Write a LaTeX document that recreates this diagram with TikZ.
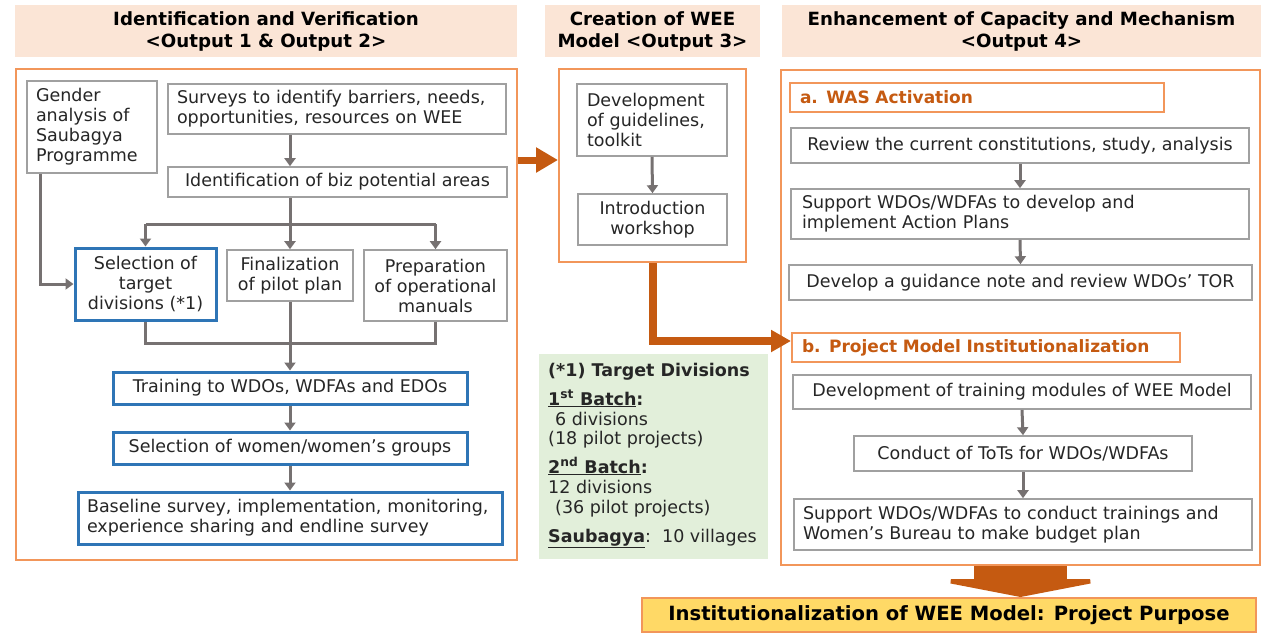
\documentclass[tikz,border=0pt]{standalone}
\usepackage{fontspec}
\setmainfont{DejaVu Sans}
\usetikzlibrary{arrows.meta}
\definecolor{txt}{RGB}{38,38,38}
\definecolor{gbord}{RGB}{160,160,160}
\definecolor{bbord}{RGB}{46,117,182}
\definecolor{hfill}{RGB}{251,229,214}
\definecolor{pbord}{RGB}{242,150,90}
\definecolor{odark}{RGB}{197,90,17}
\definecolor{gline}{RGB}{118,113,113}
\definecolor{gfill}{RGB}{226,239,218}
\definecolor{yfill}{RGB}{255,217,102}
\tikzset{
  base/.style={font=\fontsize{17.5}{20}\selectfont, text=txt, inner sep=0pt},
  gbox/.style={base, draw=gbord, line width=1.6pt, fill=white, align=center},
  bbox/.style={base, draw=bbord, line width=3pt, fill=white, align=center},
  lbox/.style={align=left, text width=#1},
  hdr/.style={font=\bfseries\fontsize{18.2}{22}\selectfont, fill=hfill, text=black, align=center, inner sep=0pt},
  panel/.style={draw=pbord, line width=2pt},
  obox/.style={draw=pbord, line width=2pt, fill=white, font=\bfseries\fontsize{17}{20}\selectfont, text=odark, align=left, inner sep=0pt},
  conn/.style={draw=gline, line width=3pt},
  arr/.style={conn, -{Triangle[width=11pt,length=8pt]}},
  gtxt/.style={base, anchor=base west},
}
\begin{document}
\begin{tikzpicture}[x=1pt,y=-1pt]
\useasboundingbox (0,0) rectangle (1261,633);
% headers
\node[hdr, minimum width=502pt, minimum height=52pt] (h1) at (266,31) {Identification and Verification\\<Output 1 \& Output 2>};
\node[hdr, minimum width=215pt, minimum height=52pt] (h2) at (652.5,31) {Creation of WEE\\Model <Output 3>};
\node[hdr, minimum width=479pt, minimum height=52pt] (h3) at (1021.5,31) {Enhancement of Capacity and Mechanism\\<Output 4>};
% panels
\node[panel, minimum width=501pt, minimum height=491pt] (p1) at (266.5,314.5) {};
\node[panel, minimum width=187pt, minimum height=193pt] (p2) at (652.5,165.5) {};
\node[panel, minimum width=479pt, minimum height=495pt] (p3) at (1020.5,317.5) {};
% green note
\node[fill=gfill, minimum width=229pt, minimum height=205pt, inner sep=0pt] (note) at (653.5,456.5) {};
\node[gtxt] (g1) at (548,376) {\bfseries (*1) Target Divisions};
\node[gtxt] (g2) at (548,405) {\bfseries\underline{1\textsuperscript{st} Batch}:};
\node[gtxt] (g3) at (555,425) {6 divisions};
\node[gtxt] (g4) at (548,444) {(18 pilot projects)};
\node[gtxt] (g5) at (548,473) {\bfseries\underline{2\textsuperscript{nd} Batch}:};
\node[gtxt] (g6) at (548,493) {12 divisions};
\node[gtxt] (g7) at (555,513) {(36 pilot projects)};
\node[gtxt] (g8) at (548,542) {\textbf{\underline{Saubagya}}:\ \ 10 villages};
% panel 1 boxes
\node[gbox, lbox=112pt, minimum width=130pt, minimum height=92pt] (gen) at (92,127) {Gender\\analysis of\\Saubagya\\Programme};
\node[gbox, lbox=320pt, minimum width=338pt, minimum height=50pt] (sur) at (337,109) {Surveys to identify barriers, needs,\\opportunities, resources on WEE};
\node[gbox, minimum width=339pt, minimum height=30pt] (ide) at (337.5,182) {Identification of biz potential areas};
\node[bbox, minimum width=141pt, minimum height=72pt] (sel) at (145.5,284) {Selection of\\target\\divisions (*1)};
\node[gbox, minimum width=126pt, minimum height=51pt] (fin) at (290,275.5) {Finalization\\of pilot plan};
\node[gbox, minimum width=143pt, minimum height=71pt] (pre) at (435.5,285.5) {Preparation\\of operational\\manuals};
\node[bbox, minimum width=354pt, minimum height=32pt] (tra) at (290,388) {Training to WDOs, WDFAs and EDOs};
\node[bbox, minimum width=354pt, minimum height=32pt] (swo) at (290,448) {Selection of women/women’s groups};
\node[bbox, lbox=406pt, minimum width=424pt, minimum height=52pt] (bas) at (290,518) {Baseline survey, implementation, monitoring,\\experience sharing and endline survey};
% panel 2 boxes
\node[gbox, lbox=130pt, minimum width=150pt, minimum height=72pt] (dev) at (652,120) {Development\\of guidelines,\\toolkit};
\node[gbox, minimum width=149pt, minimum height=51pt] (int) at (652.5,219.5) {Introduction\\workshop};
% panel 3 boxes
\node[obox, lbox=354pt, minimum width=374pt, minimum height=29pt] (wa) at (977,97.5) {a. WAS Activation};
\node[gbox, minimum width=458pt, minimum height=35pt] (rev) at (1020,145.5) {Review the current constitutions, study, analysis};
\node[gbox, lbox=436pt, minimum width=458pt, minimum height=50pt] (sup) at (1020,214) {Support WDOs/WDFAs to develop and\\implement Action Plans};
\node[gbox, minimum width=463pt, minimum height=35pt] (dgn) at (1020.5,282.5) {Develop a guidance note and review WDOs’ TOR};
\node[obox, lbox=368pt, minimum width=388pt, minimum height=29pt] (wb) at (986,347.5) {b. Project Model Institutionalization};
\node[gbox, minimum width=458pt, minimum height=34pt] (dtm) at (1022,392) {Development of training modules of WEE Model};
\node[gbox, minimum width=338pt, minimum height=35pt] (tot) at (1023,453.5) {Conduct of ToTs for WDOs/WDFAs};
\node[gbox, lbox=440pt, minimum width=458pt, minimum height=51pt] (swc) at (1023,524.5) {Support WDOs/WDFAs to conduct trainings and\\Women’s Bureau to make budget plan};
% purpose
\node[draw=pbord, line width=2pt, fill=yfill, minimum width=614pt, minimum height=34pt, inner sep=0pt, font=\bfseries\fontsize{19.6}{22}\selectfont, text=black] (pur) at (949,615) {Institutionalization of WEE Model: Project Purpose};
% panel 1 connectors
\coordinate (trunk) at (290,0);
\coordinate (j1) at (290,224);
\coordinate (j2) at (290,343);
\draw[arr] (sur.south -| trunk) -- (ide.north -| trunk);
\draw[conn] (ide.south -| trunk) -- (j1);
\draw[conn] (sel.north |- j1) -- (pre.north |- j1);
\draw[arr] (sel.north |- j1) -- (sel.north);
\draw[arr] (j1) -- (fin.north);
\draw[arr] (pre.north |- j1) -- (pre.north);
\draw[arr] ([xshift=14pt]gen.south west) |- (sel.west);
\draw[conn] (sel.south) -- (sel.south |- j2) -- (pre.south |- j2) -- (pre.south);
\draw[arr] (fin.south) -- (tra.north);
\draw[arr] (tra.south) -- (swo.north);
\draw[arr] (swo.south) -- (bas.north);
% panel 2 connectors
\draw[arr] (dev.south) -- (int.north);
% panel 3 connectors
\draw[arr] (rev.south) -- (sup.north);
\draw[arr] (sup.south) -- (dgn.north);
\draw[arr] (dtm.south) -- (tot.north);
\draw[arr] (tot.south) -- (swc.north);
% orange arrows
\coordinate (ya) at (0,160);
\draw[odark, line width=7pt, -{Triangle[width=24pt,length=22pt]}] (p1.east |- ya) -- (p2.west |- ya);
\draw[odark, line width=8pt, -{Triangle[width=21pt,length=20pt]}] (p2.south) |- ([yshift=6.5pt]wb.west);
\draw[odark, line width=93pt, -{Triangle[width=186pt,length=18pt]}] (p3.south) -- (p3.south |- pur.north);
\end{tikzpicture}
\end{document}
